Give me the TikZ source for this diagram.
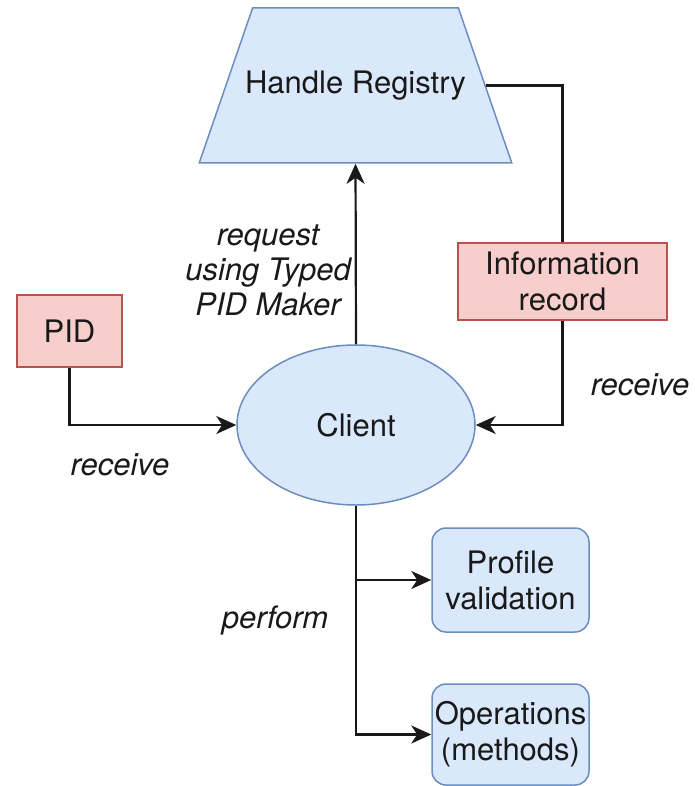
\documentclass[tikz,border=0pt]{standalone}
\usepackage{fontspec}
\setmainfont{TeX Gyre Heros}
\usetikzlibrary{arrows.meta,positioning,shapes.geometric}
\definecolor{boxblue}{HTML}{DAE8FC}
\definecolor{lineblue}{HTML}{6C8EBF}
\definecolor{boxred}{HTML}{F8CECC}
\definecolor{linered}{HTML}{B85450}

\begin{document}
\begin{tikzpicture}[
  x=1pt, y=-1pt,
  every node/.style={font=\fontsize{31}{36}\selectfont, text=black!90},
  bluebox/.style={draw=lineblue, fill=boxblue, line width=1.5pt},
  redbox/.style={draw=linered, fill=boxred, line width=1.5pt, align=center, inner sep=0pt},
  method/.style={bluebox, rounded corners=14pt, align=center, inner sep=0pt, minimum width=157pt},
  verb/.style={font=\fontsize{31}{35}\selectfont\itshape, align=center},
  link/.style={line width=2.2pt, black!90},
  arrow/.style={link, -{Stealth[length=20pt, width=18pt, inset=6pt]}}
]
  \useasboundingbox (0,0) rectangle (694,786);

  \node[bluebox, trapezium, trapezium left angle=71, trapezium right angle=71,
        text height=23pt, text depth=7pt, inner xsep=-7.5pt, inner ysep=62.5pt]
        (reg) at (355.5,85.5) {Handle Registry};
  \node[bluebox, ellipse, minimum width=238pt, minimum height=160pt, inner sep=0pt]
        (client) at (356,425) {Client};
  \node[redbox, minimum width=105pt, minimum height=72pt] (pid) at (69.5,331) {PID};
  \node[redbox, minimum width=209pt, minimum height=77pt] (info) at (562.5,281.5)
        {Information\\record};
  \node[method, minimum height=104pt] (prof) at (510.5,580) {Profile\\validation};
  \node[method, minimum height=101pt] (ops) at (510.5,734.5) {Operations\\(methods)};

  \node[verb] (req-label) at (268,270) {request\\using Typed\\PID Maker};
  \node[verb] (pid-label) at (120,465) {receive};
  \node[verb] (info-label) at (640,385) {receive};
  \node[verb] (perf-label) at (275,620) {perform};

  \draw[arrow] (client.north) -- (reg.south);
  \draw[link] (reg.east) -| (info.north);
  \draw[arrow] (info.south) |- (client.east);
  \draw[arrow] (pid.south) |- (client.west);
  \draw[arrow] (client.south) |- (prof.west);
  \draw[arrow] (client.south) |- (ops.west);
\end{tikzpicture}
\end{document}
